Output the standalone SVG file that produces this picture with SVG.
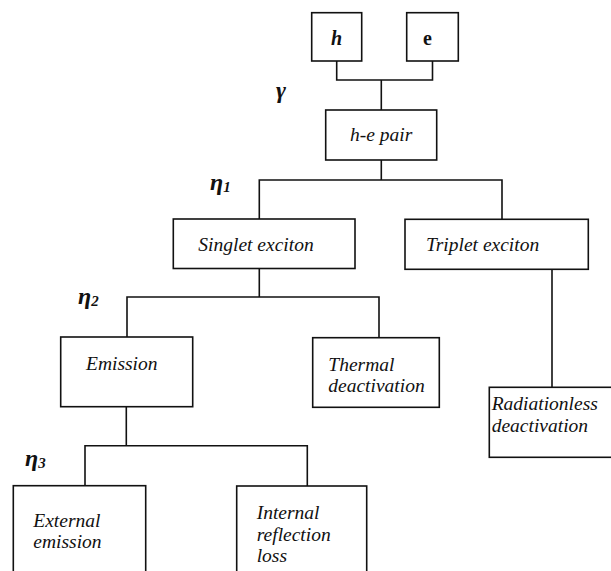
<svg xmlns="http://www.w3.org/2000/svg" width="611" height="571" viewBox="0 0 611 571">
  <style>
    .box { fill: #fff; stroke: #111; stroke-width: 1.6; }
    .wire { fill: none; stroke: #111; stroke-width: 1.6; }
    .lbl { font-family: "Liberation Serif", "Times New Roman", serif; font-style: italic; font-size: 19.5px; fill: #111; }
    .eff { font-family: "Liberation Serif", "Times New Roman", serif; font-style: italic; font-weight: bold; font-size: 24px; fill: #111; }
    .sub { font-size: 15px; }
    .tag { font-family: "Liberation Serif", "Times New Roman", serif; font-weight: bold; font-size: 20px; fill: #111; }
  </style>
  <rect width="611" height="571" fill="#fff"/>

  <!-- connectors -->
  <g id="connectors" class="wire">
    <path d="M336.7 61 V80 H432.5 V61 M381.3 80 V110"/>
    <path d="M381.3 160 V180 M259.3 219 V180 H502 V219"/>
    <path d="M259.3 268.5 V297 M127 337 V297 H379 V337.7"/>
    <path d="M552 269.3 V387.3"/>
    <path d="M126.3 406.7 V445.7 M85 485.7 V445.7 H307.3 V486"/>
  </g>

  <!-- efficiency labels -->
  <g id="factors">
    <text class="eff" x="276" y="98">γ</text>
    <text class="eff" x="210" y="190">η<tspan class="sub" dy="2">1</tspan></text>
    <text class="eff" x="78" y="304">η<tspan class="sub" dy="2">2</tspan></text>
    <text class="eff" x="25" y="466">η<tspan class="sub" dy="2">3</tspan></text>
  </g>

  <g id="hole">
    <rect class="box" x="311.7" y="12.7" width="50" height="48.3"/>
    <text class="tag" x="331" y="45" font-style="italic">h</text>
  </g>
  <g id="electron">
    <rect class="box" x="406.7" y="12.7" width="51.6" height="48.3"/>
    <text class="tag" x="423" y="45">e</text>
  </g>
  <g id="pair">
    <rect class="box" x="325.7" y="110" width="111" height="50"/>
    <text class="lbl" x="350" y="141">h-e pair</text>
  </g>
  <g id="singlet">
    <rect class="box" x="173.3" y="219" width="181.7" height="49.5"/>
    <text class="lbl" x="198.3" y="251">Singlet exciton</text>
  </g>
  <g id="triplet">
    <rect class="box" x="405" y="219.3" width="183.3" height="50"/>
    <text class="lbl" x="426" y="251">Triplet exciton</text>
  </g>
  <g id="emission">
    <rect class="box" x="60.7" y="337" width="132" height="69.7"/>
    <text class="lbl" x="86" y="369.5">Emission</text>
  </g>
  <g id="thermal">
    <rect class="box" x="312.7" y="337.7" width="126.6" height="69.6"/>
    <text class="lbl" x="328.3" y="370.7">Thermal</text>
    <text class="lbl" x="328.3" y="391.7">deactivation</text>
  </g>
  <g id="radiationless">
    <rect class="box" x="489.3" y="387.3" width="130" height="70"/>
    <text class="lbl" x="491.7" y="410">Radiationless</text>
    <text class="lbl" x="491.7" y="431.7">deactivation</text>
  </g>
  <g id="external">
    <rect class="box" x="13.3" y="485.7" width="132.4" height="100"/>
    <text class="lbl" x="33.3" y="527.3">External</text>
    <text class="lbl" x="33.3" y="548.3">emission</text>
  </g>
  <g id="internal">
    <rect class="box" x="236.7" y="486" width="130" height="100"/>
    <text class="lbl" x="256.7" y="519.3">Internal</text>
    <text class="lbl" x="256.7" y="540.7">reflection</text>
    <text class="lbl" x="256.7" y="561.7">loss</text>
  </g>
</svg>
